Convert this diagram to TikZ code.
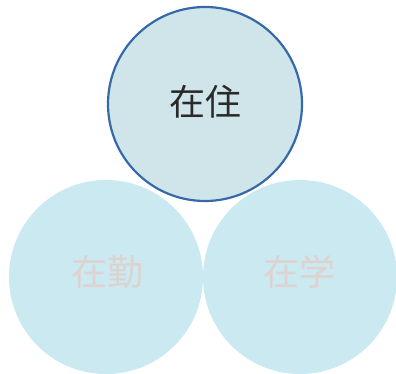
\documentclass[tikz,border=0pt]{standalone}
\usepackage{fontspec}
\newfontfamily\cjk{Noto Sans CJK JP}
\definecolor{topfill}{HTML}{D0E5E9}
\definecolor{botfill}{HTML}{CAE9F1}
\definecolor{ringblue}{HTML}{3569A8}
\definecolor{paletext}{HTML}{DDD2CF}
\definecolor{darktext}{HTML}{2A2A2A}
\tikzset{
  circ/.style={circle, minimum size=194pt, inner sep=0pt},
  topcirc/.style={circ, fill=topfill, draw=ringblue, line width=2.2pt},
  botcirc/.style={circ, fill=botfill},
  lbl/.style={font=\cjk\fontsize{36}{36}\selectfont}
}
\begin{document}
\begin{tikzpicture}[x=1pt,y=-1pt]
\useasboundingbox (0,0) rectangle (396,374);
\fill[white] (0,0) rectangle (396,374);
\node[botcirc] (kin) at (106,277) {};
\node[botcirc] (gaku) at (300,277) {};
\node[topcirc] (ju) at (205,104) {};
\node[lbl, text=darktext] (tju) at (205,102) {在住};
\node[lbl, text=paletext] (tkin) at (107,272) {在勤};
\node[lbl, text=paletext] (tgaku) at (299,272) {在学};
\end{tikzpicture}
\end{document}
